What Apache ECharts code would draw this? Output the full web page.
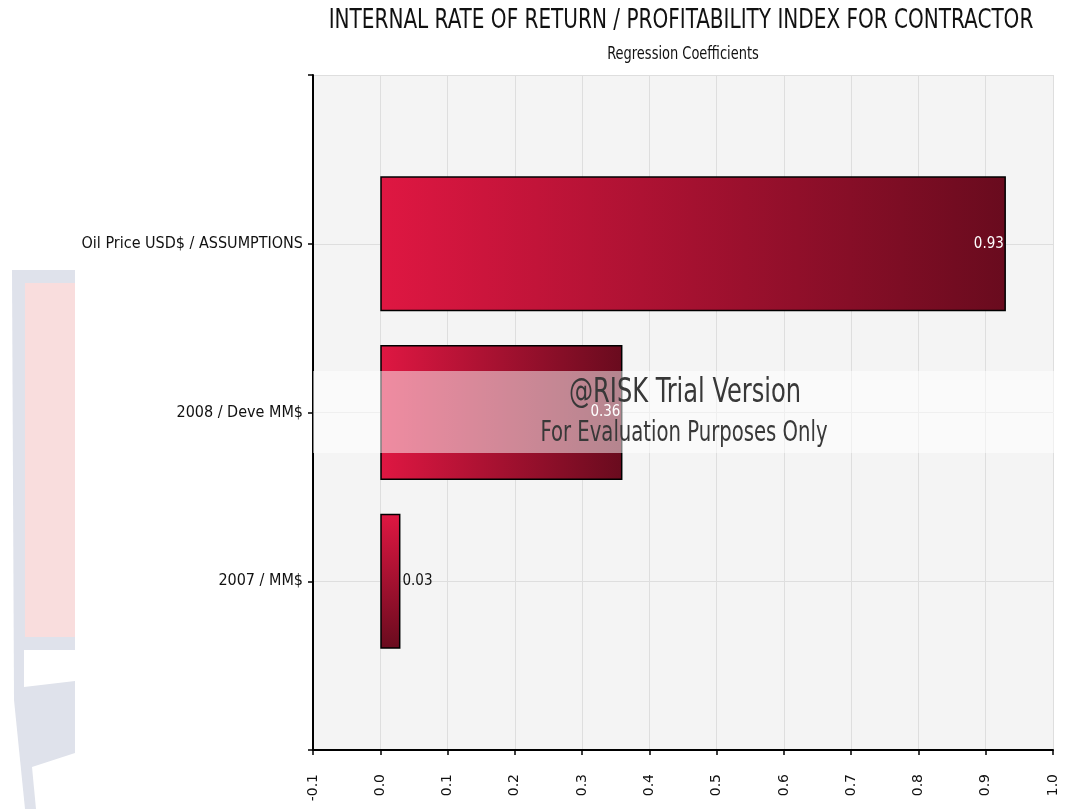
<!DOCTYPE html>
<html>
<head>
<meta charset="utf-8">
<style>
  html, body { margin: 0; padding: 0; background: #ffffff; }
  #chart { width: 1068px; height: 809px; }
</style>
<script src="https://cdn.jsdelivr.net/npm/echarts@6/dist/echarts.min.js"></script>
</head>
<body>
<div id="chart"></div>
<script>
// Regression coefficients of each input against the contractor IRR / PI output
const categories = ['Oil Price USD$ / ASSUMPTIONS', '2008 / Deve MM$', '2007 / MM$'];
const coefficients = [0.93, 0.36, 0.03];
const axisMin = -0.1;
const axisMax = 1.0;
const axisStep = 0.1;

const NARROW = "'DejaVu Sans Condensed', 'Liberation Sans Narrow', sans-serif";

// Empty slots above and below so the three bars sit on evenly spaced ticks
const yCats = [''].concat(categories, ['']);

function barFill(horizontal) {
  return new echarts.graphic.LinearGradient(0, 0, horizontal ? 1 : 0, horizontal ? 0 : 1, [
    { offset: 0, color: '#df1742' },
    { offset: 1, color: '#690b1e' }
  ]);
}

const seriesData = ['-'].concat(coefficients.map(function (v) {
  const long = v > 0.1;
  return {
    value: v,
    itemStyle: { color: barFill(long) },
    label: long
      ? { position: 'insideRight', color: '#ffffff', distance: 2 }
      : { position: 'right', color: '#111111', distance: 2 }
  };
}), ['-']);

// Condensed text drawn horizontally squeezed
function narrowText(str, cx, cy, size, squeeze, color, z) {
  return {
    type: 'text', z: z, silent: true,
    x: cx, y: cy, scaleX: squeeze,
    style: {
      text: str, x: 0, y: 0, align: 'center', verticalAlign: 'middle',
      font: size + 'px ' + NARROW, fill: color
    }
  };
}

const chart = echarts.init(document.getElementById('chart'), null, { renderer: 'canvas' });

chart.setOption({
  animation: false,
  backgroundColor: '#ffffff',
  grid: {
    left: 313, right: 15, top: 75, bottom: 59,
    show: true, backgroundColor: '#f4f4f4', borderWidth: 0
  },
  xAxis: {
    type: 'value',
    min: axisMin, max: axisMax, interval: axisStep,
    axisLine: { show: true, onZero: false, lineStyle: { color: '#000000', width: 2 } },
    axisTick: { show: true, length: 5, lineStyle: { color: '#000000', width: 1.5 } },
    splitLine: { show: true, lineStyle: { color: '#dedede', width: 1 } },
    axisLabel: {
      rotate: 90, margin: 24,
      fontFamily: "'DejaVu Sans', Verdana, sans-serif", fontSize: 14, color: '#111111',
      formatter: function (v) { return v.toFixed(1); }
    }
  },
  yAxis: {
    type: 'category',
    data: yCats,
    inverse: true,
    boundaryGap: false,
    axisLine: { show: true, onZero: false, lineStyle: { color: '#000000', width: 2 } },
    axisTick: { show: true, length: 5, lineStyle: { color: '#000000', width: 1.5 } },
    splitLine: { show: true, lineStyle: { color: '#dedede', width: 1 } },
    axisLabel: {
      margin: 10, fontFamily: NARROW, fontSize: 16, color: '#111111', interval: 0
    }
  },
  series: [{
    type: 'bar',
    data: seriesData,
    barWidth: 135,
    itemStyle: { borderColor: '#000000', borderWidth: 1.5 },
    label: {
      show: true,
      fontFamily: NARROW, fontSize: 15,
      formatter: function (p) { return p.value.toFixed(2); }
    }
  }],
  graphic: [
    // faint logo at the far left edge
    { type: 'polygon', z: -1, silent: true,
      shape: { points: [[12, 270], [75, 270], [75, 809], [25, 809], [14, 700]] },
      style: { fill: '#dfe2eb' } },
    { type: 'rect', z: -1, silent: true,
      shape: { x: 25, y: 283, width: 50, height: 354 },
      style: { fill: '#f9dddd' } },
    { type: 'polygon', z: -1, silent: true,
      shape: { points: [[24, 650], [75, 650], [75, 681], [24, 687]] },
      style: { fill: '#ffffff' } },
    { type: 'polygon', z: -1, silent: true,
      shape: { points: [[32, 767], [75, 753], [75, 809], [36, 809]] },
      style: { fill: '#ffffff' } },
    // headings
    narrowText('INTERNAL RATE OF RETURN / PROFITABILITY INDEX FOR CONTRACTOR', 681, 21, 27, 0.825, '#111111', 10),
    narrowText('Regression Coefficients', 683, 55, 17, 0.85, '#111111', 10),
    // trial watermark band over the plot
    { type: 'rect', z: 100, silent: true,
      shape: { x: 313, y: 371, width: 741, height: 82 },
      style: { fill: 'rgba(255,255,255,0.5)' } },
    narrowText('@RISK Trial Version', 685, 393, 34, 0.79, '#383838', 101),
    narrowText('For Evaluation Purposes Only', 684, 434, 28, 0.78, '#383838', 101)
  ]
});
</script>
</body>
</html>
